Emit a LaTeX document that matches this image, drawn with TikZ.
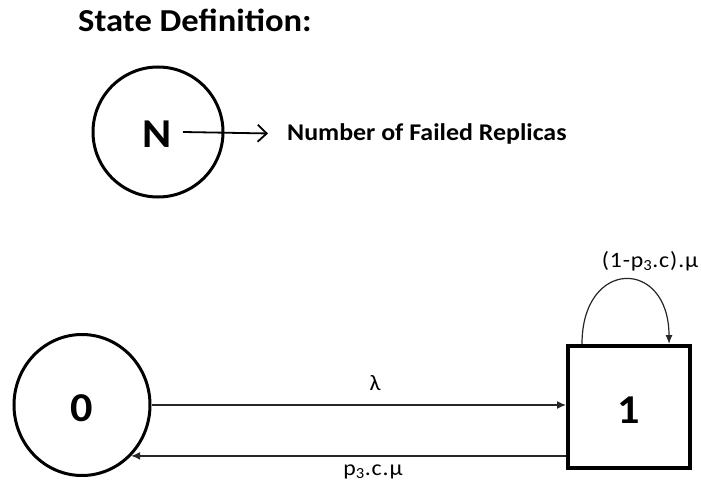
\documentclass[tikz,border=0pt]{standalone}
\usepackage{fontspec}
\setmainfont[FakeStretch=1.08]{Carlito}
\usetikzlibrary{arrows.meta,shapes.geometric}
\begin{document}
\begin{tikzpicture}[x=1pt,y=-1pt,
  statecirc/.style={draw,circle,line width=3pt,minimum size=130pt,inner sep=0pt},
  stateell/.style={draw,ellipse,line width=3pt,minimum width=136pt,minimum height=141pt,inner sep=0pt},
  statebox/.style={draw,rectangle,line width=4pt,minimum size=122pt,inner sep=0pt},
  bigtxt/.style={font=\fontsize{41}{41}\selectfont\bfseries},
  lbl/.style={font=\fontsize{22}{22}\selectfont\addfontfeature{LetterSpace=4},inner sep=0pt,anchor=base},
  trans/.style={line width=1.4pt,draw=black!85,-{Latex[length=9pt,width=8pt]}},
]
\useasboundingbox (0,0) rectangle (701,484);
\node[anchor=base west,inner sep=0pt,font=\fontsize{32}{32}\selectfont\bfseries] (title) at (78,32) {State Definition:};
\node[statecirc] (N) at (158,132) {};
\node[bigtxt] (Nt) at (157,134) {N};
\node[anchor=base west,inner sep=0pt,font=\fontsize{24}{24}\selectfont\bfseries] (desc) at (287,140) {Number of Failed Replicas};
\draw[line width=1.8pt,-{Straight Barb[length=9pt,width=17pt,line width=1.8pt]}] ([xshift=25pt]N.center) -- ([xshift=-19pt]desc.west);

\node[stateell] (s0) at (82,405) {};
\node[bigtxt] (t0) at (82,408) {0};
\node[statebox] (s1) at (629,407) {};
\node[bigtxt] (t1) at (629,410) {1};

\draw[trans] (s0.east) -- (s1.west |- s0.east);
\node[lbl] (lam) at (375,390) {λ};
\draw[trans] (s1.west |- s0.-46) -- (s0.-46);
\node[lbl] (mu) at (373,475) {p\textsubscript{3}.c.μ};
\draw[line width=1.2pt,draw=black!85,-{Latex[length=9pt,width=7pt]}] ([xshift=-47pt]s1.north) .. controls +(0,-86) and +(0,-86) .. ([xshift=40pt]s1.north);
\node[lbl] (loop) at (650,267) {(1-p\textsubscript{3}.c).μ};
\end{tikzpicture}
\end{document}
